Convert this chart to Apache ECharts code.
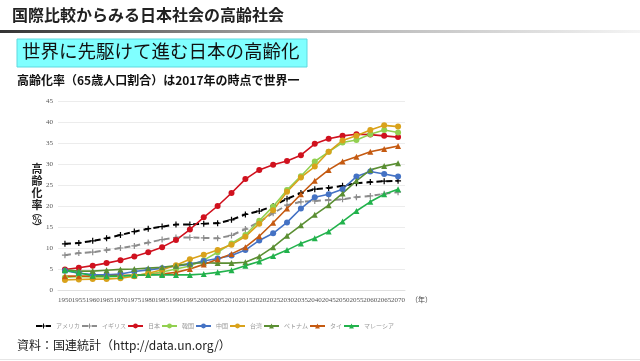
<!DOCTYPE html>
<html><head><meta charset="utf-8">
<script src="https://cdn.jsdelivr.net/npm/echarts@6/dist/echarts.min.js"></script>
<style>html,body{margin:0;padding:0;background:#fff}#c{width:640px;height:361px}</style>
</head><body><div id="c"></div>
<script>
const years = ['1950','1955','1960','1965','1970','1975','1980','1985','1990','1995','2000','2005','2010','2015','2020','2025','2030','2035','2040','2045','2050','2055','2060','2065','2070'];
const america = [11.0,11.2,11.7,12.3,13.1,13.9,14.6,15.1,15.6,15.6,15.8,15.9,16.7,18.0,18.8,20.0,21.7,23.1,24.0,24.3,24.8,25.4,25.7,25.9,26.0];
const britain = [8.3,8.8,9.0,9.5,10.0,10.5,11.3,12.0,12.5,12.5,12.4,12.3,13.0,14.5,16.2,18.3,20.2,21.0,21.2,21.4,21.6,22.1,22.4,22.9,23.3];
const japan = [4.9,5.3,5.8,6.4,7.1,8.0,9.0,10.2,11.9,14.4,17.3,20.0,23.1,26.4,28.6,29.8,30.7,32.1,34.8,36.0,36.7,37.1,37.0,36.7,36.4];
const korea = [3.0,3.2,3.1,3.1,3.3,3.5,3.8,4.3,5.0,5.7,7.1,9.0,11.1,13.1,16.5,19.9,23.8,27.1,30.6,32.9,35.1,35.7,37.1,38.1,37.5];
const china = [4.6,4.0,3.7,3.6,3.8,4.4,4.8,5.2,5.7,6.1,6.9,7.5,8.2,9.5,11.8,13.5,16.1,19.4,22.1,22.8,24.0,27.0,28.2,27.6,27.0];
const taiwan = [2.4,2.5,2.6,2.6,2.8,3.3,4.0,4.8,5.9,7.3,8.4,9.5,10.8,12.7,15.8,19.0,23.4,26.8,29.4,32.9,35.6,36.7,38.1,39.2,38.9];
const vietnam = [4.8,4.5,4.5,4.7,4.9,5.0,5.2,5.4,5.8,6.3,6.5,6.4,6.4,6.6,8.0,10.2,12.9,15.4,17.9,20.2,23.0,26.0,28.6,29.5,30.2];
const thailand = [3.3,3.3,3.3,3.4,3.5,3.5,3.6,3.8,4.2,5.0,6.1,7.3,8.6,10.2,12.8,16.0,19.4,22.8,26.0,28.6,30.6,31.7,32.9,33.6,34.3];
const malaysia = [4.7,4.1,3.4,3.3,3.3,3.5,3.6,3.6,3.6,3.6,3.8,4.2,4.7,5.8,6.8,8.1,9.5,11.1,12.3,13.9,16.3,18.8,21.0,22.8,24.0];
const yTicks = {min:0, max:45, interval:5};
const yNameChars = [['高',163,11],['齢',175,11],['化',187,11],['率',199,11],['︵',207,10],['%',215,9],['︶',222,10]];

const plus = 'path://M4,0H6V4H10V6H6V10H4V6H0V4H4Z';
function s(name, data, color, symbol, opt){
  return Object.assign({
    name, type:'line', data, symbol, symbolSize:6,
    itemStyle:{color}, lineStyle:{color, width:1.6}, z:2
  }, opt||{});
}
const graphics = [
  {type:'text', left:12, top:7, style:{text:'国際比較からみる日本社会の高齢社会', font:'bold 16px "Noto Sans CJK JP"', fill:'#222'}},
  {type:'rect', shape:{x:0,y:30,width:640,height:3}, style:{fill:new echarts.graphic.LinearGradient(0,0,1,0,[{offset:0,color:'#333'},{offset:0.45,color:'#aaa'},{offset:1,color:'#f4f4f4'}])}},
  {type:'rect', shape:{x:17,y:39,width:290,height:28}, style:{fill:'#80FFFF', stroke:'#5fd9df', lineWidth:1}},
  {type:'text', left:22, top:42, style:{text:'世界に先駆けて進む日本の高齢化', font:'18.5px "Noto Sans CJK JP"', fill:'#111'}},
  {type:'text', left:17, top:74, style:{text:'高齢化率（65歳人口割合）は2017年の時点で世界一', font:'bold 12px "Noto Sans CJK JP"', fill:'#111'}},
  {type:'text', left:17, top:339, style:{text:'資料：国連統計（http://data.un.org/）', font:'12px "Noto Sans CJK JP"', fill:'#222'}},
  {type:'rect', shape:{x:0,y:359,width:640,height:1}, style:{fill:'#e6e6e6'}}
];
yNameChars.forEach(([ch, y, fs]) => {
  graphics.push({type:'text', x:37, y:y, style:{text:ch, font:'bold '+fs+'px "Noto Sans CJK JP"', fill:'#222', textAlign:'center', textVerticalAlign:'top'}});
});
const chart = echarts.init(document.getElementById('c'));
chart.setOption({
  animation:false,
  textStyle:{fontFamily:'"Noto Sans CJK JP", sans-serif'},
  graphic:graphics,
  grid:{left:58, right:235, top:101, bottom:71},
  legend:{
    left:30, top:318, itemWidth:15, itemHeight:6, itemGap:1,
    textStyle:{fontSize:6, color:'#999'},
    data:['アメリカ','イギリス','日本','韓国','中国','台湾','ベトナム','タイ','マレーシア']
  },
  xAxis:{
    type:'category', data:years, boundaryGap:true,
    name:'（年）', nameLocation:'end', nameGap:4,
    nameTextStyle:{fontSize:7, color:'#444', fontFamily:'"Noto Sans CJK JP"', verticalAlign:'top', padding:[6,0,0,0]},
    axisLine:{lineStyle:{color:'#e0e0e0'}}, axisTick:{show:false},
    axisLabel:{interval:0, fontSize:7, color:'#555', fontFamily:'"Liberation Serif", serif', margin:7}
  },
  yAxis:{
    type:'value', min:yTicks.min, max:yTicks.max, interval:yTicks.interval,
    axisLine:{show:false}, axisTick:{show:false},
    splitLine:{lineStyle:{color:'#ececec'}},
    axisLabel:{fontSize:7, color:'#555', fontFamily:'"Liberation Serif", serif', margin:5}
  },
  series:[
    s('アメリカ', america, '#000000', plus, {lineStyle:{color:'#000', width:2, type:[6,4]}}),
    s('イギリス', britain, '#8c8c8c', plus, {lineStyle:{color:'#8c8c8c', width:2, type:[6,4]}}),
    s('日本', japan, '#D0111E', 'circle'),
    s('韓国', korea, '#92D050', 'circle'),
    s('中国', china, '#4472C4', 'circle'),
    s('台湾', taiwan, '#D9A21B', 'circle'),
    s('ベトナム', vietnam, '#5B8F33', 'triangle'),
    s('タイ', thailand, '#C55A11', 'triangle'),
    s('マレーシア', malaysia, '#22B24C', 'triangle')
  ]
});
</script></body></html>
